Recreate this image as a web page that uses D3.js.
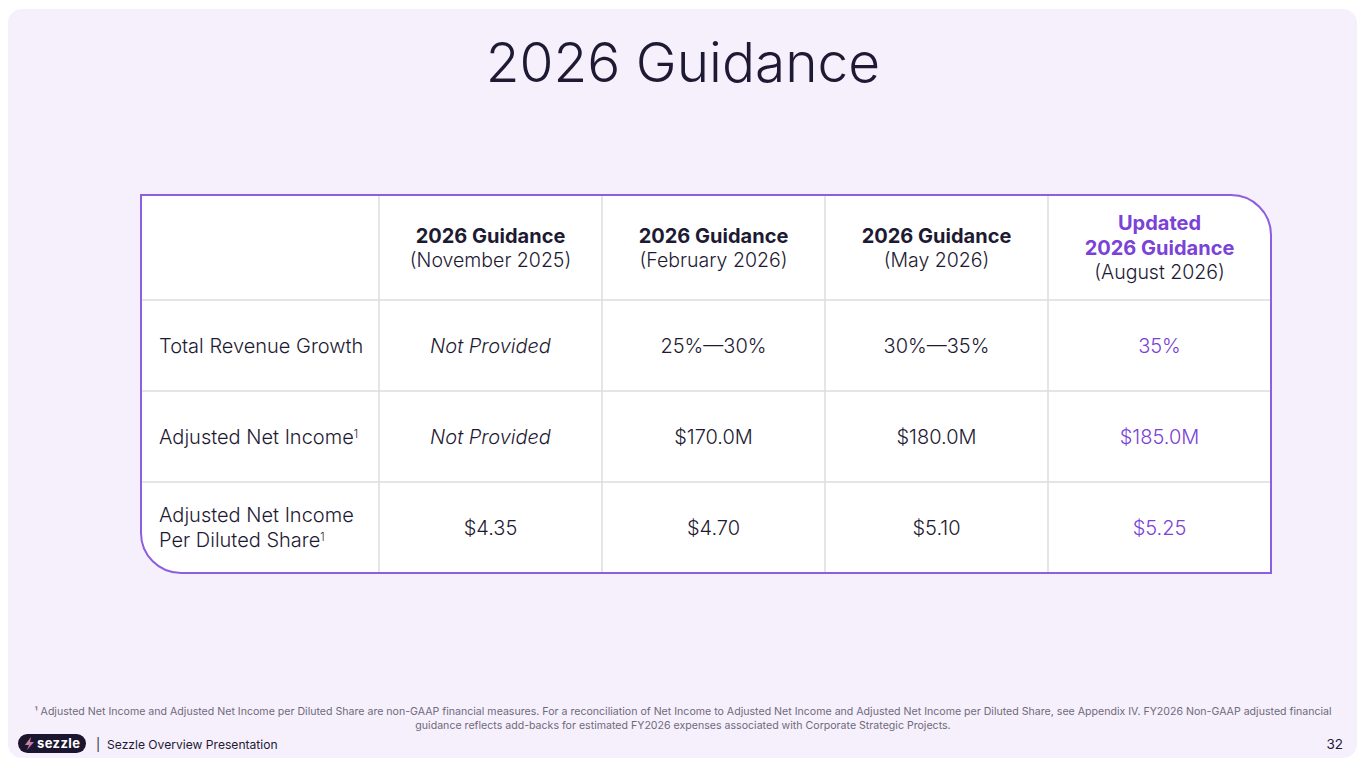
<!DOCTYPE html>
<html>
<head>
<meta charset="utf-8">
<script src="https://cdn.jsdelivr.net/npm/d3@7"></script>
<style>
  html, body { margin: 0; padding: 0; background: #ffffff; }
  svg { display: block; font-family: Inter, "Noto Sans", sans-serif; }
</style>
</head>
<body>
<svg id="slide" width="1365" height="768"></svg>
<script>
// ---- data ----
const colHeads = ['2026 Guidance', '2026 Guidance', '2026 Guidance', 'Updated\n2026 Guidance'];
const colDates = ['(November 2025)', '(February 2026)', '(May 2026)', '(August 2026)'];
const rowLabels = [['Total Revenue Growth'], ['Adjusted Net Income¹'], ['Adjusted Net Income', 'Per Diluted Share¹']];
const revenueGrowth = ['Not Provided', '25%\u201430%', '30%\u201435%', '35%'];
const netIncome = ['Not Provided', '$170.0M', '$180.0M', '$185.0M'];
const perShare = ['$4.35', '$4.70', '$5.10', '$5.25'];
const footnote = [
  '¹ Adjusted Net Income and Adjusted Net Income per Diluted Share are non-GAAP financial measures. For a reconciliation of Net Income to Adjusted Net Income and Adjusted Net Income per Diluted Share, see Appendix IV. FY2026 Non-GAAP adjusted financial',
  'guidance reflects add-backs for estimated FY2026 expenses associated with Corporate Strategic Projects.'
];

const DARK = '#1e1a33';
const PURPLE = '#7a42d6';
const BORDER = '#8c5ee0';
const GRID = '#dcdcdc';

const svg = d3.select('#slide');

// slide panel
svg.append('rect')
  .attr('x', 8).attr('y', 9).attr('width', 1349).attr('height', 749)
  .attr('rx', 14).attr('fill', '#f6f0fd');

// title
svg.append('text')
  .attr('x', 683).attr('y', 82)
  .attr('text-anchor', 'middle')
  .style('font-size', '55px').style('font-weight', 300)
  .style('fill', DARK)
  .text('2026 Guidance');

// ---- table layout ----
const tLeft = 141, tRight = 1271, tTop = 195, headBottom = 300, tBottom = 573;
const labelRight = 379;
const rad = 40;

const x = d3.scaleBand().domain(d3.range(colHeads.length)).range([labelRight, tRight]);
const y = d3.scaleBand().domain(d3.range(rowLabels.length)).range([headBottom, tBottom]);

const rows = [revenueGrowth, netIncome, perShare];

// table body with rounded top-right and bottom-left corners
const shape = d3.path();
shape.moveTo(tLeft, tTop);
shape.lineTo(tRight - rad, tTop);
shape.arcTo(tRight, tTop, tRight, tTop + rad, rad);
shape.lineTo(tRight, tBottom);
shape.lineTo(tLeft + rad, tBottom);
shape.arcTo(tLeft, tBottom, tLeft, tBottom - rad, rad);
shape.closePath();

svg.append('path').attr('d', shape.toString()).attr('fill', '#ffffff');

const grid = svg.append('g').attr('stroke', GRID).attr('stroke-width', 1.5);
// vertical lines
[labelRight, ...d3.range(1, colHeads.length).map(i => x(i))].forEach(xx => {
  grid.append('line').attr('x1', xx).attr('x2', xx).attr('y1', tTop).attr('y2', tBottom);
});
// horizontal lines
[headBottom, ...d3.range(1, rowLabels.length).map(i => y(i))].forEach(yy => {
  grid.append('line').attr('x1', tLeft).attr('x2', tRight).attr('y1', yy).attr('y2', yy);
});

svg.append('path').attr('d', shape.toString())
  .attr('fill', 'none').attr('stroke', BORDER).attr('stroke-width', 2);

// header cells
colHeads.forEach((h, i) => {
  const cx = x(i) + x.bandwidth() / 2;
  const lines = h.split('\n');
  const last = i === colHeads.length - 1;
  const g = svg.append('text').attr('text-anchor', 'middle');
  const startY = lines.length > 1 ? 230 : 243;
  lines.forEach((ln, k) => {
    g.append('tspan').attr('x', cx).attr('y', startY + k * 25)
      .style('font-size', '20px').style('font-weight', 700)
      .style('fill', last ? PURPLE : DARK).text(ln);
  });
  g.append('tspan').attr('x', cx).attr('y', startY + lines.length * 25 - 1)
    .style('font-size', '19.5px').style('font-weight', 300).style('fill', DARK).text(colDates[i]);
});

// row labels
rowLabels.forEach((lbl, j) => {
  const cy = y(j) + y.bandwidth() / 2;
  const t = svg.append('text').style('font-size', '20px').style('font-weight', 300).style('fill', DARK);
  const y0 = cy + 7 - (lbl.length - 1) * 12.5;
  lbl.forEach((ln, k) => {
    const sup = ln.endsWith('¹');
    t.append('tspan').attr('x', 159).attr('y', y0 + k * 25).text(sup ? ln.slice(0, -1) : ln);
    if (sup) t.append('tspan').attr('dy', -6).style('font-size', '11px').text('1');
  });
});

// values
rows.forEach((vals, j) => {
  const cy = y(j) + y.bandwidth() / 2;
  vals.forEach((v, i) => {
    svg.append('text')
      .attr('x', x(i) + x.bandwidth() / 2).attr('y', cy + 7)
      .attr('text-anchor', 'middle')
      .style('font-size', '20px').style('font-weight', 300)
      .style('font-style', v === 'Not Provided' ? 'italic' : 'normal')
      .style('fill', i === vals.length - 1 ? PURPLE : DARK)
      .text(v);
  });
});

// footnote
footnote.forEach((ln, k) => {
  svg.append('text')
    .attr('x', 683).attr('y', 715 + k * 14)
    .attr('text-anchor', 'middle')
    .style('font-size', '10.6px').style('fill', '#6f6a7a')
    .text(ln);
});

// logo pill
const logo = svg.append('g');
logo.append('rect').attr('x', 18).attr('y', 734).attr('width', 68).attr('height', 19)
  .attr('rx', 9.5).attr('fill', '#1c1530');
const grad = svg.append('defs').append('linearGradient').attr('id', 'bolt')
  .attr('x1', 0).attr('y1', 0).attr('x2', 1).attr('y2', 1);
grad.append('stop').attr('offset', 0).attr('stop-color', '#f0a04b');
grad.append('stop').attr('offset', 1).attr('stop-color', '#9a5cf0');
logo.append('path').attr('d', 'M31 737 L25 745 L29 745 L27 750 L34 742 L30 742 Z').attr('fill', 'url(#bolt)');
logo.append('text').attr('x', 37).attr('y', 748)
  .style('font-size', '13px').style('font-weight', 700).style('fill', '#ffffff')
  .style('letter-spacing', '0.4px')
  .text('sezzle');

svg.append('text').attr('x', 96).attr('y', 749)
  .style('font-size', '12.5px').style('fill', DARK)
  .text('|');
svg.append('text').attr('x', 107).attr('y', 749)
  .style('font-size', '12.1px').style('fill', DARK).style('font-weight', 400)
  .text('Sezzle Overview Presentation');

svg.append('text').attr('x', 1343).attr('y', 749).attr('text-anchor', 'end')
  .style('font-size', '13.5px').style('fill', DARK)
  .text('32');
</script>
</body>
</html>
